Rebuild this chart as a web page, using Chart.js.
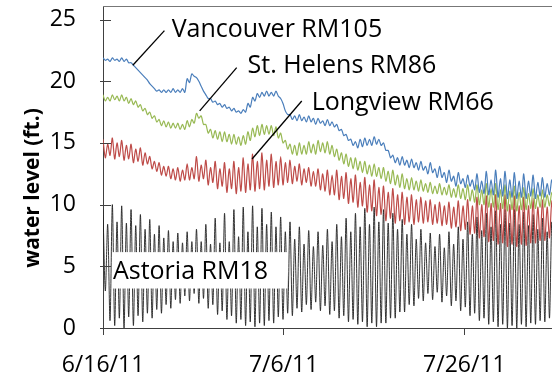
<!DOCTYPE html>
<html>
<head>
<meta charset="utf-8">
<script src="https://cdn.jsdelivr.net/npm/chart.js@4.4.1/dist/chart.umd.min.js"></script>
<style>
  html, body { margin: 0; padding: 0; background: #fff; }
  #wrap { width: 552px; height: 377px; }
</style>
</head>
<body>
<div id="wrap"><canvas id="chart"></canvas></div>
<script>
// water levels along the lower Columbia, 6/16/11 onward
// one high and one low per semidiurnal tide cycle (ft.)
const cycleDays = 0.5175; // 12.42 h

const xTickValues = [0, 20, 40];
const xTickLabels = ['6/16/11', '7/6/11', '7/26/11'];
const yTickValues = [0, 5, 10, 15, 20, 25];

const vancouverHigh = [
  21.9, 21.8, 21.9, 21.8, 21.9, 21.8, 21.5, 21.1, 20.7, 20.3,
  19.8, 19.4, 19.3, 19.3, 19.3, 19.4, 19.3, 19.4, 20.2, 20.6,
  20.3, 19.6, 18.9, 18.6, 18.4, 18.2, 18.1, 17.9, 17.8, 17.6,
  17.7, 18.2, 18.7, 19.0, 19.1, 19.2, 19.1, 19.2, 18.6, 17.6,
  17.3, 17.2, 17.3, 17.1, 17.2, 17.0, 17.0, 16.8, 16.9, 16.7,
  16.5, 16.1, 15.7, 15.3, 15.1, 15.3, 15.4, 15.3, 15.5, 15.3,
  15.0, 14.4, 14.0, 13.8, 13.9, 13.6, 13.7, 13.4, 13.5, 13.1,
  13.4, 12.9, 13.1, 12.6, 12.8, 12.3, 12.6, 12.1, 12.4, 12.0,
  12.5, 11.9, 12.7, 12.0, 12.8, 12.1, 12.7, 12.0, 12.6, 11.9,
  12.5, 11.9, 12.4, 11.8, 12.2, 11.7, 12.0
];
const vancouverLow = [
  21.7, 21.6, 21.7, 21.6, 21.6, 21.5, 21.3, 20.9, 20.5, 20.1,
  19.6, 19.2, 19.1, 19.1, 19.1, 19.1, 19.1, 19.1, 19.9, 20.4,
  20.0, 19.2, 18.6, 18.3, 18.1, 17.9, 17.8, 17.6, 17.5, 17.4,
  17.5, 17.9, 18.4, 18.7, 18.8, 18.8, 18.8, 18.8, 18.2, 17.3,
  16.9, 16.8, 16.8, 16.7, 16.7, 16.5, 16.6, 16.4, 16.4, 16.3,
  16.0, 15.6, 15.2, 14.8, 14.6, 14.7, 14.8, 14.8, 14.9, 14.8,
  14.4, 13.8, 13.4, 13.2, 13.2, 13.0, 13.0, 12.8, 12.8, 12.5,
  12.6, 12.2, 12.2, 11.8, 11.9, 11.5, 11.7, 11.4, 11.5, 11.2,
  11.0, 10.9, 10.8, 10.8, 10.6, 10.7, 10.5, 10.6, 10.5, 10.6,
  10.5, 10.7, 10.5, 10.7, 10.6, 10.8, 10.7
];

const stHelensHigh = [
  18.9, 18.7, 18.9, 18.8, 18.9, 18.7, 18.6, 18.4, 18.1, 17.8,
  17.5, 17.2, 16.9, 16.8, 16.7, 16.6, 16.6, 16.5, 16.8, 16.9,
  17.4, 17.2, 16.5, 16.1, 16.0, 15.9, 15.9, 15.7, 15.7, 15.5,
  15.6, 15.9, 16.2, 16.4, 16.5, 16.4, 16.4, 16.3, 15.8, 15.2,
  14.9, 14.8, 15.0, 14.8, 15.1, 14.9, 15.2, 15.0, 15.1, 14.8,
  14.5, 14.2, 14.1, 13.8, 13.8, 13.5, 13.5, 13.2, 13.3, 13.0,
  13.0, 12.7, 12.8, 12.4, 12.5, 12.1, 12.2, 11.9, 12.0, 11.7,
  11.8, 11.5, 11.7, 11.4, 11.6, 11.3, 11.6, 11.3, 11.6, 11.2,
  11.6, 11.2, 11.7, 11.3, 11.7, 11.2, 11.6, 11.1, 11.5, 11.0,
  11.4, 10.9, 11.3, 10.8, 11.2, 10.8, 11.0
];
const stHelensLow = [
  18.4, 18.4, 18.5, 18.4, 18.4, 18.2, 18.1, 17.9, 17.6, 17.3,
  17.0, 16.7, 16.4, 16.3, 16.2, 16.2, 16.1, 16.1, 16.3, 16.6,
  17.0, 16.5, 15.8, 15.4, 15.3, 15.1, 15.1, 14.9, 14.9, 14.8,
  14.9, 15.2, 15.5, 15.6, 15.7, 15.7, 15.6, 15.4, 15.0, 14.5,
  14.1, 14.0, 14.1, 14.1, 14.2, 14.1, 14.3, 14.2, 14.1, 13.9,
  13.6, 13.3, 13.1, 12.9, 12.8, 12.6, 12.5, 12.3, 12.3, 12.1,
  11.9, 11.7, 11.6, 11.4, 11.3, 11.2, 11.2, 11.1, 11.1, 11.0,
  10.9, 10.9, 10.8, 10.8, 10.6, 10.6, 10.5, 10.4, 10.3, 10.2,
  10.0, 10.0, 9.8, 9.8, 9.6, 9.7, 9.5, 9.6, 9.5, 9.6,
  9.6, 9.7, 9.7, 9.8, 9.8, 9.9, 9.9
];

const longviewHigh = [
  15.3, 14.9, 15.4, 15.0, 15.2, 14.8, 14.9, 14.5, 14.6, 14.2,
  13.9, 13.5, 13.4, 13.1, 13.1, 12.9, 13.0, 12.8, 13.3, 13.0,
  13.9, 13.2, 13.6, 13.0, 13.5, 12.9, 13.4, 12.9, 13.5, 13.0,
  13.8, 13.3, 14.1, 13.5, 14.2, 13.6, 14.1, 13.5, 13.9, 13.4,
  13.6, 13.1, 13.3, 12.9, 13.0, 12.7, 12.9, 12.5, 12.8, 12.4,
  12.8, 12.3, 12.6, 12.1, 12.4, 11.8, 12.2, 11.6, 12.0, 11.4,
  11.5, 11.0, 11.3, 10.8, 11.0, 10.6, 10.8, 10.4, 10.6, 10.3,
  10.4, 10.0, 10.2, 9.9, 10.2, 9.8, 10.3, 9.9, 10.4, 9.9,
  10.6, 10.0, 10.7, 10.1, 10.8, 10.1, 10.8, 10.0, 10.7, 9.9,
  10.6, 9.9, 10.5, 9.8, 10.4, 9.8, 10.3
];
const longviewLow = [
  13.8, 14.0, 13.7, 13.9, 13.6, 13.7, 13.4, 13.5, 13.2, 13.3,
  12.9, 12.7, 12.4, 12.3, 12.1, 12.0, 11.9, 12.0, 12.0, 12.1,
  11.9, 12.1, 11.6, 11.8, 11.3, 11.5, 11.0, 11.3, 10.9, 11.1,
  11.0, 11.2, 11.1, 11.3, 11.2, 11.5, 11.4, 11.6, 11.6, 11.8,
  11.7, 11.9, 11.6, 11.8, 11.5, 11.5, 11.2, 11.1, 10.8, 10.8,
  10.4, 10.5, 10.1, 10.2, 9.8, 9.9, 9.4, 9.5, 9.1, 9.2,
  8.7, 8.9, 8.5, 8.7, 8.4, 8.6, 8.4, 8.6, 8.5, 8.6,
  8.4, 8.5, 8.3, 8.4, 8.1, 8.2, 7.9, 8.0, 7.6, 7.7,
  7.3, 7.4, 7.0, 7.1, 6.8, 6.9, 6.6, 6.8, 6.6, 6.8,
  6.7, 6.9, 6.9, 7.1, 7.1, 7.3, 7.4
];

const astoriaHigh = [
  9.6, 8.4, 10.0, 8.6, 9.9, 8.5, 9.6, 8.3, 9.2, 8.0,
  8.8, 7.6, 8.3, 7.3, 7.9, 7.0, 7.7, 6.9, 7.8, 7.0,
  8.0, 7.0, 8.4, 6.8, 8.9, 6.9, 9.3, 7.0, 9.6, 7.4,
  9.8, 7.8, 9.9, 8.2, 9.7, 8.4, 9.4, 8.2, 9.0, 7.8,
  8.6, 7.2, 8.2, 6.8, 7.9, 6.6, 7.8, 6.7, 8.0, 7.0,
  8.4, 7.4, 8.9, 7.8, 9.3, 8.2, 9.7, 8.4, 9.8, 8.6,
  9.6, 8.5, 9.3, 8.0, 8.8, 7.6, 8.4, 7.2, 8.0, 6.9,
  7.7, 6.6, 7.6, 6.5, 7.8, 6.8, 8.2, 7.2, 8.6, 7.6,
  9.0, 7.9, 9.3, 8.2, 9.5, 8.4, 9.6, 8.5, 9.6, 8.4,
  9.4, 8.3, 9.2, 8.0, 8.9, 7.8, 8.6
];
const astoriaLow = [
  3.0, 0.6, 0.2, 0.8, 0.0, 0.9, 0.2, 1.0, 0.5, 1.2,
  0.8, 1.5, 1.2, 1.9, 1.6, 2.3, 2.0, 2.6, 2.2, 2.8,
  2.0, 2.4, 1.6, 1.9, 1.1, 1.4, 0.7, 1.0, 0.4, 0.7,
  0.2, 0.5, 0.1, 0.4, 0.2, 0.6, 0.4, 0.9, 0.7, 1.2,
  1.0, 1.6, 1.3, 1.9, 1.5, 2.1, 1.4, 1.8, 1.1, 1.4,
  0.8, 1.0, 0.5, 0.7, 0.3, 0.5, 0.1, 0.4, 0.1, 0.4,
  0.4, 0.8, 0.8, 1.3, 1.3, 1.9, 1.8, 2.4, 2.2, 2.8,
  2.3, 2.9, 2.1, 2.6, 1.8, 2.2, 1.4, 1.7, 1.0, 1.2,
  0.6, 0.8, 0.3, 0.5, 0.1, 0.3, 0.0, 0.2, 0.0, 0.3,
  0.1, 0.4, 0.3, 0.6, 0.5, 0.8, 0.8
];

// station labels (data units: days after 6/16/11, ft.)
const stationLabels = [
  { text: 'Vancouver RM105', x: 7.6, y: 24.15, from: [3.3, 21.3], to: [6.8, 24.1] },
  { text: 'St. Helens RM86', x: 16.0, y: 21.25, from: [10.7, 17.6], to: [14.8, 21.1] },
  { text: 'Longview RM66', x: 23.1, y: 18.25, from: [16.5, 13.7], to: [22.0, 18.4] }
];
const astoriaLabel = { text: 'Astoria RM18', x: 1.1, y: 4.55, box: [1.0, 6.15, 20.4, 3.2] };

// high, low, high, low ... in time order
function tideSeries(highs, lows) {
  const pts = [];
  for (let i = 0; i < highs.length; i++) {
    pts.push({ x: i * cycleDays, y: highs[i] });
    pts.push({ x: (i + 0.5) * cycleDays, y: lows[i] });
  }
  return pts;
}

const labelFont = '25px "Open Sans"';

const decorations = {
  id: 'decorations',
  afterDatasetsDraw(chart) {
    const ctx = chart.ctx, xs = chart.scales.x, ys = chart.scales.y, area = chart.chartArea;
    ctx.save();
    // frame line on top
    ctx.strokeStyle = '#777';
    ctx.lineWidth = 1;
    ctx.beginPath();
    ctx.moveTo(area.left, Math.round(area.top) + 0.5);
    ctx.lineTo(area.right, Math.round(area.top) + 0.5);
    ctx.stroke();
    // inward y ticks
    ctx.strokeStyle = '#404040';
    yTickValues.forEach(v => {
      const py = Math.round(ys.getPixelForValue(v)) + 0.5;
      ctx.beginPath();
      ctx.moveTo(area.left - 3, py);
      ctx.lineTo(area.left + 8, py);
      ctx.stroke();
    });
    // Astoria label on white box
    const b = astoriaLabel.box;
    const bx = xs.getPixelForValue(b[0]), by = ys.getPixelForValue(b[1]);
    ctx.fillStyle = '#fff';
    ctx.fillRect(bx, by, xs.getPixelForValue(b[2]) - bx, ys.getPixelForValue(b[3]) - by);
    ctx.fillStyle = '#000';
    ctx.font = labelFont;
    ctx.textBaseline = 'middle';
    ctx.textAlign = 'left';
    ctx.fillText(astoriaLabel.text, xs.getPixelForValue(astoriaLabel.x), ys.getPixelForValue(astoriaLabel.y));
    // other stations with leader lines
    ctx.strokeStyle = '#000';
    ctx.lineWidth = 1.3;
    stationLabels.forEach(l => {
      ctx.beginPath();
      ctx.moveTo(xs.getPixelForValue(l.from[0]), ys.getPixelForValue(l.from[1]));
      ctx.lineTo(xs.getPixelForValue(l.to[0]), ys.getPixelForValue(l.to[1]));
      ctx.stroke();
      ctx.fillText(l.text, xs.getPixelForValue(l.x), ys.getPixelForValue(l.y));
    });
    // y axis title
    ctx.translate(33, 188);
    ctx.rotate(-Math.PI / 2);
    ctx.font = 'bold 21px "Open Sans"';
    ctx.textAlign = 'center';
    ctx.fillText('water level (ft.)', 0, 0);
    ctx.restore();
  }
};

function lineSet(label, data, color, width) {
  return {
    label: label, data: data, borderColor: color, borderWidth: width,
    pointRadius: 0, tension: 0.3, fill: false
  };
}

new Chart(document.getElementById('chart'), {
  type: 'line',
  data: {
    datasets: [
      lineSet('Vancouver RM105', tideSeries(vancouverHigh, vancouverLow), '#4a7ebb', 1.2),
      lineSet('St. Helens RM86', tideSeries(stHelensHigh, stHelensLow), '#98b954', 1.2),
      lineSet('Longview RM66', tideSeries(longviewHigh, longviewLow), '#be4b48', 1.2),
      lineSet('Astoria RM18', tideSeries(astoriaHigh, astoriaLow), '#1e1e1e', 0.9)
    ]
  },
  options: {
    responsive: true,
    maintainAspectRatio: false,
    animation: false,
    layout: { padding: { top: 6, right: 0, left: 0, bottom: 0 } },
    plugins: { legend: { display: false }, tooltip: { enabled: false } },
    scales: {
      x: {
        type: 'linear',
        min: 0,
        max: 49.7,
        afterBuildTicks: s => { s.ticks = xTickValues.map(v => ({ value: v })); },
        afterFit: s => { s.height = 49; s.paddingLeft = 0; s.paddingRight = 0; },
        ticks: {
          autoSkip: false, maxRotation: 0, padding: 17,
          color: '#000', font: { family: 'Open Sans', size: 23 },
          callback: v => xTickLabels[xTickValues.indexOf(v)]
        },
        grid: { drawOnChartArea: false, tickLength: 7, color: '#404040' },
        border: { color: '#404040' }
      },
      y: {
        min: 0,
        max: 26.1,
        afterBuildTicks: s => { s.ticks = yTickValues.map(v => ({ value: v })); },
        afterFit: s => { s.width = 103; s.paddingTop = 0; s.paddingBottom = 0; },
        ticks: {
          padding: 27, color: '#000', font: { family: 'Open Sans', size: 23 }
        },
        grid: { drawOnChartArea: false, drawTicks: false },
        border: { color: '#404040' }
      }
    }
  },
  plugins: [decorations]
});
</script>
</body>
</html>
